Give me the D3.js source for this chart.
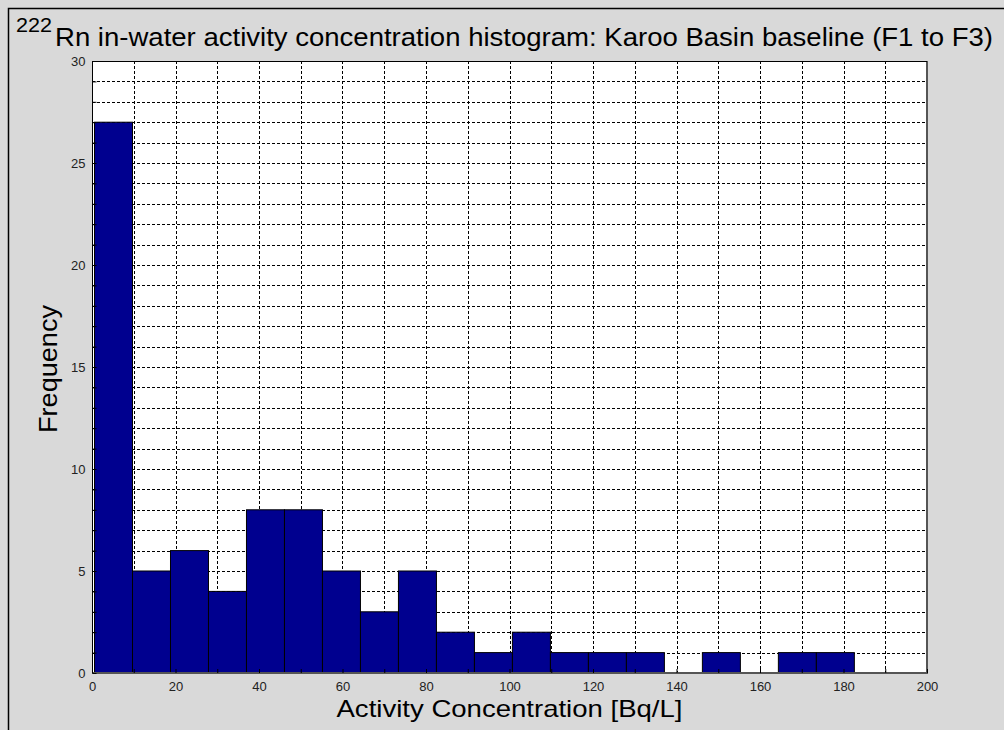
<!DOCTYPE html>
<html>
<head>
<meta charset="utf-8">
<script src="https://cdn.jsdelivr.net/npm/d3@7"></script>
<style>
  html, body { margin: 0; padding: 0; background: #d9d9d9; }
  svg { display: block; font-family: Arial, "Liberation Sans", sans-serif; }
</style>
</head>
<body>
<svg id="chart" width="1004" height="730"></svg>
<script>
// Histogram bin edges (Bq/L) and counts per bin
const binEdges = [0.6, 9.7, 18.8, 27.9, 37.0, 46.1, 55.2, 64.3, 73.4, 82.5, 91.6,
                  100.7, 109.8, 118.9, 128.0, 137.1, 146.2, 155.3, 164.4, 173.5, 182.6];
const binCounts = [27, 5, 6, 4, 8, 8, 5, 3, 5, 2, 1, 2, 1, 1, 1, 0, 1, 0, 1, 1];

// Axis ticks
const xTickLabels = [0, 20, 40, 60, 80, 100, 120, 140, 160, 180, 200];
const xGridValues = [10, 20, 30, 40, 50, 60, 70, 80, 90, 100, 110, 120, 130, 140, 150, 160, 170, 180, 190];
const yTickLabels = [0, 5, 10, 15, 20, 25, 30];
const yGridValues = [1, 2, 3, 4, 5, 6, 7, 8, 9, 10, 11, 12, 13, 14, 15, 16, 17, 18, 19, 20,
                     21, 22, 23, 24, 25, 26, 27, 28, 29];

const titleSup = "222";
const titleMain = "Rn in-water activity concentration histogram: Karoo Basin baseline (F1 to F3)";
const xLabel = "Activity Concentration [Bq/L]";
const yLabel = "Frequency";

const svg = d3.select("#chart");
const plot = { left: 92, top: 61, right: 927, bottom: 673 };

const x = d3.scaleLinear().domain([0, 200]).range([plot.left, plot.right]);
const y = d3.scaleLinear().domain([0, 30]).range([plot.bottom, plot.top]);

// Figure frame
svg.append("rect")
  .attr("x", 8.5).attr("y", 8.5)
  .attr("width", 1010).attr("height", 740)
  .attr("fill", "#d9d9d9").attr("stroke", "#000").attr("stroke-width", 1.5);

// Plot background
svg.append("rect")
  .attr("x", plot.left).attr("y", plot.top)
  .attr("width", plot.right - plot.left).attr("height", plot.bottom - plot.top)
  .attr("fill", "#fff");

// Dashed grid
const grid = svg.append("g").attr("stroke", "#000").attr("stroke-width", 1)
  .attr("stroke-dasharray", "3,2");
grid.selectAll("line.h").data(yGridValues).join("line")
  .attr("x1", plot.left).attr("x2", plot.right)
  .attr("y1", d => Math.round(y(d)) + 0.5).attr("y2", d => Math.round(y(d)) + 0.5);
grid.selectAll("line.v").data(xGridValues).join("line")
  .attr("y1", plot.top).attr("y2", plot.bottom)
  .attr("x1", d => Math.round(x(d)) + 0.5).attr("x2", d => Math.round(x(d)) + 0.5);

// Bars
const bins = binCounts.map((c, i) => ({ x0: binEdges[i], x1: binEdges[i + 1], n: c }));
svg.append("g").selectAll("rect").data(bins.filter(b => b.n > 0)).join("rect")
  .attr("x", d => x(d.x0))
  .attr("width", d => x(d.x1) - x(d.x0))
  .attr("y", d => y(d.n))
  .attr("height", d => y(0) - y(d.n))
  .attr("fill", "#00008f")
  .attr("stroke", "#000")
  .attr("stroke-width", 1);

// Axes box
svg.append("line").attr("x1", plot.right).attr("x2", plot.right)
  .attr("y1", plot.top).attr("y2", plot.bottom + 1)
  .attr("stroke", "#555").attr("stroke-width", 2);
svg.append("line").attr("x1", plot.left).attr("x2", plot.right + 1)
  .attr("y1", plot.bottom).attr("y2", plot.bottom)
  .attr("stroke", "#555").attr("stroke-width", 2);
svg.append("line").attr("x1", plot.left).attr("x2", plot.right)
  .attr("y1", plot.top + 0.5).attr("y2", plot.top + 0.5)
  .attr("stroke", "#000").attr("stroke-width", 1);
svg.append("line").attr("x1", plot.left + 0.5).attr("x2", plot.left + 0.5)
  .attr("y1", plot.top).attr("y2", plot.bottom)
  .attr("stroke", "#000").attr("stroke-width", 1);

// Axes with inward ticks
const yAxis = d3.axisLeft(y).tickValues(d3.range(0, 31, 1))
  .tickSize(-4).tickFormat(d => yTickLabels.includes(d) ? d : "").tickPadding(7);
const gy = svg.append("g").attr("transform", `translate(${plot.left + 0.5},0)`).call(yAxis);
gy.select(".domain").remove();
gy.selectAll("line").attr("stroke", "#000");
gy.selectAll("text").attr("font-size", 13).attr("fill", "#222")
  .attr("font-family", "Arial, 'Liberation Sans', sans-serif");

const xAxis = d3.axisBottom(x).tickValues(d3.range(0, 201, 10))
  .tickSize(-4).tickFormat(d => xTickLabels.includes(d) ? d : "").tickPadding(9);
const gx = svg.append("g").attr("transform", `translate(0,${plot.bottom})`).call(xAxis);
gx.select(".domain").remove();
gx.selectAll("line").attr("stroke", "#000");
gx.selectAll("text").attr("font-size", 13).attr("fill", "#222")
  .attr("font-family", "Arial, 'Liberation Sans', sans-serif");

// Title with superscript isotope number
const title = svg.append("text").attr("y", 46).attr("fill", "#000");
title.append("tspan").attr("x", 16).attr("dy", -14)
  .attr("font-size", 20).attr("textLength", 36).attr("lengthAdjust", "spacingAndGlyphs")
  .text(titleSup);
title.append("tspan").attr("x", 55).attr("dy", 14)
  .attr("font-size", 25).attr("textLength", 938).attr("lengthAdjust", "spacingAndGlyphs")
  .text(titleMain);

// Axis labels
svg.append("text")
  .attr("x", (plot.left + plot.right) / 2).attr("y", 717)
  .attr("text-anchor", "middle").attr("font-size", 24).attr("fill", "#000")
  .attr("textLength", 346).attr("lengthAdjust", "spacingAndGlyphs")
  .text(xLabel);
svg.append("text")
  .attr("transform", `translate(57,369) rotate(-90)`)
  .attr("text-anchor", "middle").attr("font-size", 26).attr("fill", "#000")
  .attr("textLength", 128).attr("lengthAdjust", "spacingAndGlyphs")
  .text(yLabel);
</script>
</body>
</html>
